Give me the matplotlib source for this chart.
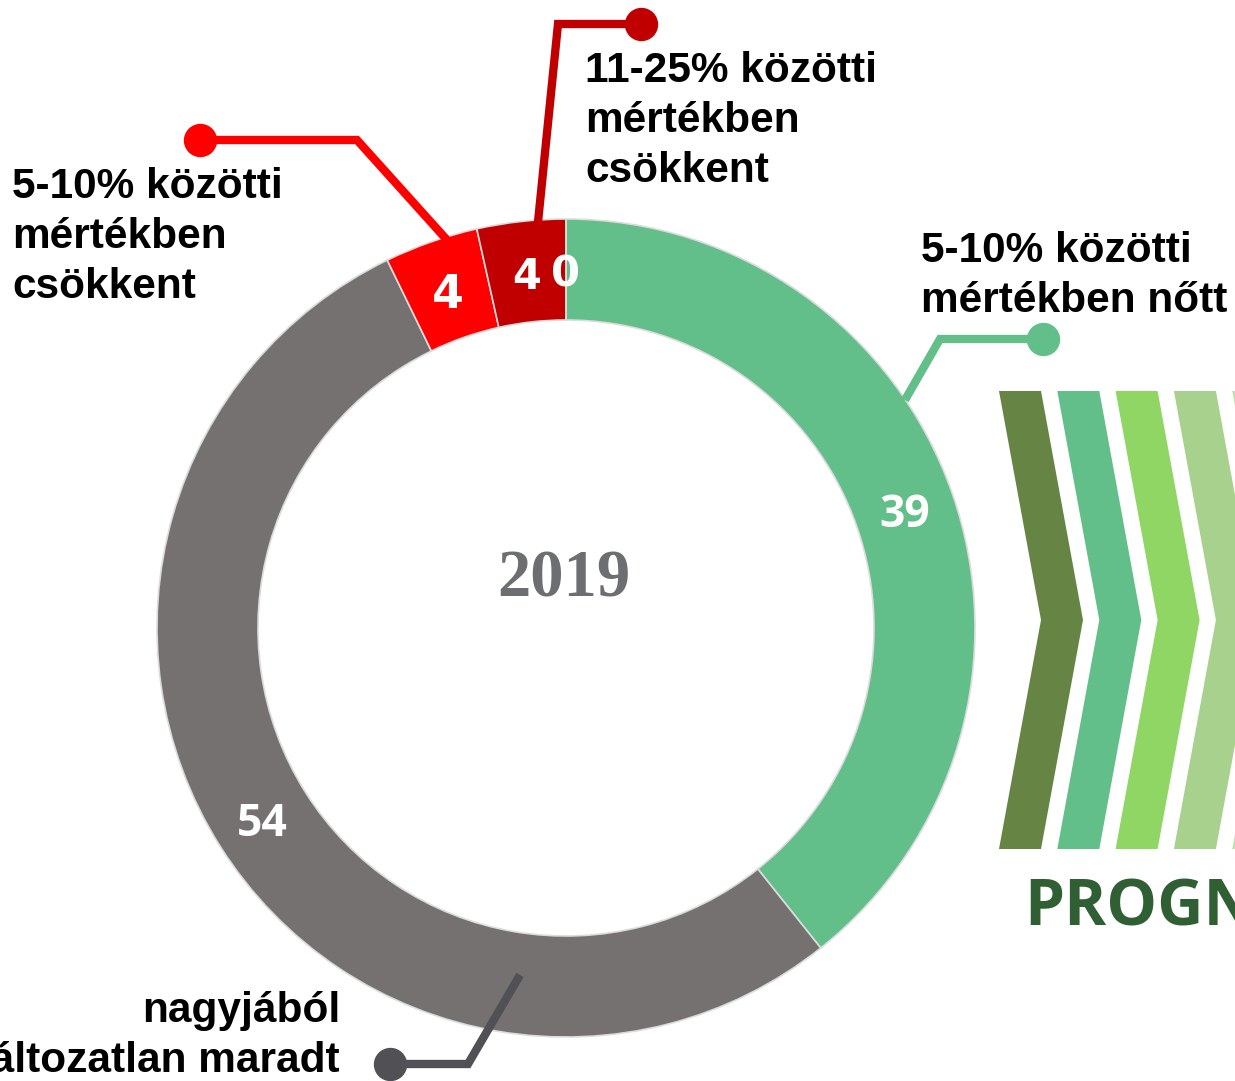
import numpy as np
import matplotlib.pyplot as plt
from matplotlib.patches import Polygon

# adatok (százalékos megoszlás, a feliratok kerekítve)
categories = ['5-10% között nőtt', 'nagyjából változatlan maradt',
              '5-10% között csökkent', '11-25% között csökkent', '25% felett csökkent']
values = [39.3, 53.5, 3.7, 3.5, 0.0]
colors = ['#63bf8a', '#767171', '#ff0000', '#c00000', '#c00000']
year = '2019'

label_texts = [
    ['5-10% közötti', 'mértékben nőtt'],
    ['nagyjából', 'változatlan maradt'],
    ['5-10% közötti', 'mértékben', 'csökkent'],
    ['11-25% közötti', 'mértékben', 'csökkent'],
]
chevron_colors = ['#668443', '#63bf8a', '#8fd664', '#a9d18e', '#c5e0b4']

W, H = 1235, 1081
fig = plt.figure(figsize=(W / 100, H / 100), dpi=100)
ax = fig.add_axes([0, 0, 1, 1])

def Y(y):
    return H - y

cx, cy = 566, 628
R, ring = 409, 101

ax.pie(values, colors=colors, startangle=90, counterclock=False,
       center=(cx, Y(cy)), radius=R, frame=True,
       wedgeprops=dict(width=ring, edgecolor='#dcdcdc', linewidth=1.2))

# számok a gyűrűn
total = sum(values)
cum = np.cumsum([0] + values[:-1])
r_mid = R - ring / 2
num_font = [('Open Sans', 32), ('Open Sans', 32), ('DejaVu Sans', 33),
            ('DejaVu Sans', 30), ('DejaVu Sans', 30)]
num_dy = [-6, -5, -6, -5, -5]
for i, v in enumerate(values):
    if i == len(values) - 1:
        frac = cum[i] / total
    else:
        frac = (cum[i] + v / 2) / total
    th = np.deg2rad(90 - 360 * frac)
    x = cx + r_mid * np.cos(th)
    y = Y(cy) + r_mid * np.sin(th) + num_dy[i]
    fam, sz = num_font[i]
    ax.text(x, y, '%d' % np.floor(v + 0.5), color='white', fontsize=sz,
            fontweight='bold', family=fam, ha='center', va='center')

ax.text(564, Y(580), year, color='#6d6e71', fontsize=48, fontweight='bold',
        family='Liberation Serif', ha='center', va='center')

# vezetővonalak
leaders = [
    ([(905, 400), (940, 339), (1043, 339)], '#63bf8a'),
    ([(520, 975), (468, 1064), (390, 1064)], '#505055'),
    ([(447, 240), (357, 140), (200, 140)], '#ff0000'),
    ([(538, 222), (558, 24), (641, 24)], '#c00000'),
]
for pts, c in leaders:
    xs = [p[0] for p in pts]
    ys = [Y(p[1]) for p in pts]
    ax.plot(xs, ys, color=c, lw=6, solid_joinstyle='miter', solid_capstyle='butt')
    ax.plot(xs[-1], ys[-1], 'o', color=c, ms=23)

# feliratok
def lines(x, y0, txts, ha='left', step=50):
    for k, t in enumerate(txts):
        ax.text(x, Y(y0 + k * step), t, fontsize=30.5, fontweight='bold',
                family='Liberation Sans', ha=ha, va='baseline', color='black')

lines(921, 262, label_texts[0])
lines(340, 1022, label_texts[1], ha='right')
lines(12, 198, label_texts[2])
lines(585, 82, label_texts[3])

# chevronok
for i, c in enumerate(chevron_colors):
    x0 = 999 + i * 58.3
    top, mid, bot = 391, 620, 849
    pts = [(x0, top), (x0 + 42, top), (x0 + 84, mid), (x0 + 42, bot),
           (x0, bot), (x0 + 42, mid)]
    ax.add_patch(Polygon([(px, Y(py)) for px, py in pts], closed=True,
                         facecolor=c, edgecolor='none'))

ax.text(1024, Y(926), 'PROGNÓZIS', color='#305f34', fontsize=46,
        fontweight='bold', family='Open Sans', ha='left', va='baseline')

ax.set_xlim(0, W)
ax.set_ylim(0, H)
ax.set_aspect('auto')
ax.axis('off')

fig.savefig('out.png', dpi=100)
